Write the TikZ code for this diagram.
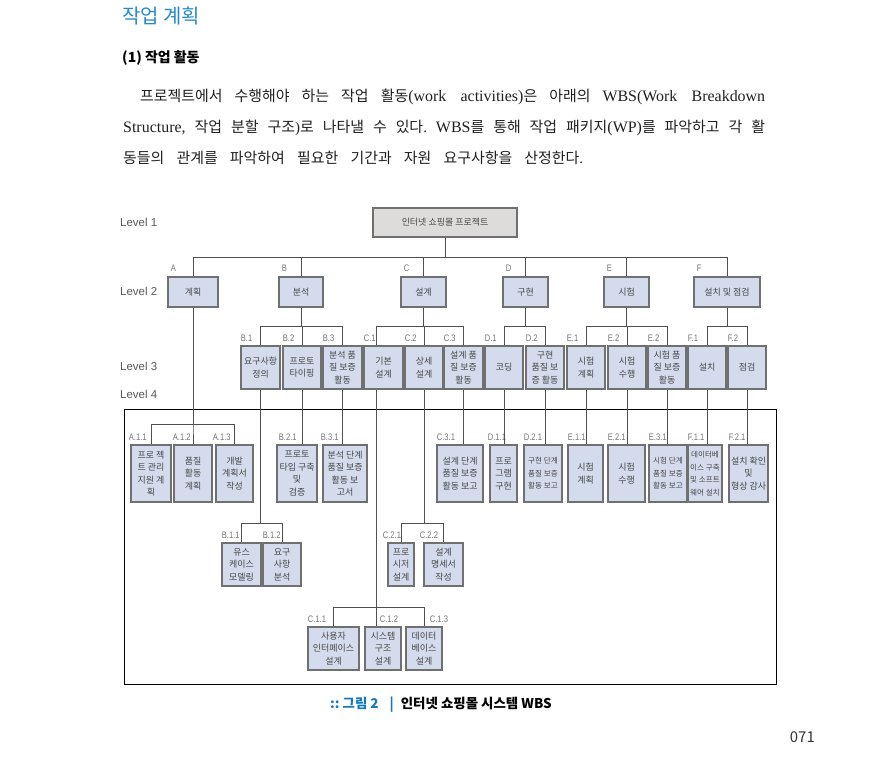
\documentclass[tikz,border=0pt]{standalone}
\usepackage{fontspec}
\setmainfont{Noto Sans CJK KR}
\newfontfamily\latinserif{Liberation Serif}
\newfontfamily\labelfont{Liberation Sans}
\newfontfamily\codefont[FakeStretch=0.8]{Liberation Sans}
\usepackage{tikz}
\usetikzlibrary{calc}
\definecolor{wbsblue}{RGB}{211,219,236}
\definecolor{wbsedge}{RGB}{112,112,112}
\definecolor{wbsroot}{RGB}{221,220,218}
\definecolor{wbsline}{RGB}{80,80,80}
\definecolor{headblue}{RGB}{38,138,200}
\definecolor{capblue}{RGB}{20,120,190}
\frenchspacing

\tikzset{
  wbs/.style={draw=wbsedge, line width=1.6bp, fill=wbsblue, inner sep=0pt,
    align=center, text=black!72, font=\fontsize{9}{12.5}\selectfont},
  lvtwo/.style={wbs, minimum height=30bp},
  lvthree/.style={wbs, minimum height=43bp},
  lvfour/.style={wbs, minimum height=57bp},
  narrow/.style={font=\fontsize{7.6}{12.5}\selectfont},
  code/.style={font=\codefont\fontsize{9.5}{10}\selectfont, text=black!55, inner sep=0pt,
    anchor=south west, xshift=0.5bp, yshift=3.5bp},
  codetwo/.style={code, xshift=3bp, yshift=1bp},
  link/.style={draw=wbsline, line width=0.9bp},
  lvname/.style={font=\labelfont\fontsize{11.5}{12}\selectfont, text=black!65, anchor=west, inner sep=0pt},
  bodyline/.style={anchor=base west, inner sep=0pt, text=black!88, font=\fontsize{15}{16}\selectfont}
}

\begin{document}
\begin{tikzpicture}[x=1bp, y=-1bp]
  \useasboundingbox (0,0) rectangle (885,772);
  % page text
  \node[anchor=west, inner sep=0pt, text=headblue, font=\fontsize{20}{21}\selectfont] (title) at (122,16) {작업 계획};
  \node[anchor=west, inner sep=0pt, font=\fontsize{14}{15}\selectfont\bfseries] (sub) at (122,58) {(1) 작업 활동};
  \node[bodyline] (par1) at (140,101)
    {\makebox[625bp][s]{프로젝트에서 수행해야 하는 작업 활동{\latinserif\fontsize{16}{16}\selectfont(work activities)}은 아래의 {\latinserif\fontsize{16}{16}\selectfont WBS(Work Breakdown}}};
  \node[bodyline] (par2) at (123,132)
    {\makebox[642bp][s]{{\latinserif\fontsize{16}{16}\selectfont Structure,} 작업 분할 구조{\latinserif)}로 나타낼 수 있다{\latinserif.} {\latinserif\fontsize{16}{16}\selectfont WBS}를 통해 작업 패키지{\latinserif\fontsize{16}{16}\selectfont(WP)}를 파악하고 각 활}};
  \node[bodyline] (par3) at (123,163)
    {\makebox[460bp][s]{동들의 관계를 파악하여 필요한 기간과 자원 요구사항을 산정한다{\latinserif.}}};

  % levels
  \node[lvname] (lv1) at (120,222) {Level 1};
  \node[lvname] (lv2) at (120,291) {Level 2};
  \node[lvname] (lv3) at (120,366) {Level 3};
  \node[lvname] (lv4) at (120,394) {Level 4};
  \draw[line width=0.9bp] (124,409) rectangle (776,684);

  % Level 1
  \node[wbs, fill=wbsroot, minimum width=144bp, minimum height=29bp] (root) at (445,222.5) {인터넷 쇼핑몰 프로젝트};

  % Level 2
  \node[lvtwo, minimum width=50bp] (A) at (193,292) {계획};
  \node[lvtwo, minimum width=44bp] (B) at (301,292) {분석};
  \node[lvtwo, minimum width=45bp] (C) at (423.5,292) {설계};
  \node[lvtwo, minimum width=45bp] (D) at (525.5,292) {구현};
  \node[lvtwo, minimum width=45bp] (E) at (626.5,292) {시험};
  \node[lvtwo, minimum width=66bp] (F) at (727,292) {설치 및 점검};
  \node[codetwo] at (A.north west) {A};
  \node[codetwo] at (B.north west) {B};
  \node[codetwo] at (C.north west) {C};
  \node[codetwo] at (D.north west) {D};
  \node[codetwo] at (E.north west) {E};
  \node[codetwo] at (F.north west) {F};

  % Level 3
  \node[lvthree, minimum width=39bp] (B1) at (260.5,367.5) {요구사항\\정의};
  \node[lvthree, minimum width=38bp] (B2) at (302,367.5) {프로토\\타이핑};
  \node[lvthree, minimum width=39bp] (B3) at (342.5,367.5) {분석 품\\질 보증\\활동};
  \node[lvthree, minimum width=39bp] (C1) at (383.5,367.5) {기본\\설계};
  \node[lvthree, minimum width=38bp] (C2) at (424,367.5) {상세\\설계};
  \node[lvthree, minimum width=39bp] (C3) at (463.5,367.5) {설계 품\\질 보증\\활동};
  \node[lvthree, minimum width=38bp] (D1) at (504,367.5) {코딩};
  \node[lvthree, minimum width=38bp] (D2) at (545,367.5) {구현\\품질 보\\증 활동};
  \node[lvthree, minimum width=38bp] (E1) at (586,367.5) {시험\\계획};
  \node[lvthree, minimum width=38bp] (E2) at (627,367.5) {시험\\수행};
  \node[lvthree, minimum width=38bp] (E3) at (667,367.5) {시험 품\\질 보증\\활동};
  \node[lvthree, minimum width=38bp] (F1) at (707,367.5) {설치};
  \node[lvthree, minimum width=38bp] (F2) at (747,367.5) {점검};
  \node[code] at (B1.north west) {B.1};
  \node[code] at (B2.north west) {B.2};
  \node[code] at (B3.north west) {B.3};
  \node[code] at (C1.north west) {C.1};
  \node[code] at (C2.north west) {C.2};
  \node[code] at (C3.north west) {C.3};
  \node[code] at (D1.north west) {D.1};
  \node[code] at (D2.north west) {D.2};
  \node[code] at (E1.north west) {E.1};
  \node[code] at (E2.north west) {E.2};
  \node[code] at (E3.north west) {E.2};
  \node[code] at (F1.north west) {F.1};
  \node[code] at (F2.north west) {F.2};

  % Level 4
  \node[lvfour, minimum width=40bp] (A11) at (151,473.5) {프로 젝\\트 관리\\지원 계\\획};
  \node[lvfour, minimum width=38bp] (A12) at (193,473.5) {품질\\활동\\계획};
  \node[lvfour, minimum width=37bp] (A13) at (234.5,473.5) {개발\\계획서\\작성};
  \node[lvfour, minimum width=40bp] (B21) at (297,473.5) {프로토\\타입 구축\\및\\검증};
  \node[lvfour, minimum width=44bp] (B31) at (345,473.5) {분석 단계\\품질 보증\\활동 보\\고서};
  \node[lvfour, minimum width=46bp] (C31) at (460,473.5) {설계 단계\\품질 보증\\활동 보고};
  \node[lvfour, minimum width=27bp] (D11) at (503.5,473.5) {프로\\그램\\구현};
  \node[lvfour, narrow, minimum width=38bp] (D21) at (543,473.5) {구현 단계\\품질 보증\\활동 보고};
  \node[lvfour, minimum width=35bp] (E11) at (585.5,473.5) {시험\\계획};
  \node[lvfour, minimum width=37bp] (E21) at (626.5,473.5) {시험\\수행};
  \node[lvfour, narrow, minimum width=38bp] (E31) at (668,473.5) {시험 단계\\품질 보증\\활동 보고};
  \node[lvfour, narrow, minimum width=34bp] (F11) at (705,473.5) {데이터베\\이스 구축\\및 소프트\\웨어 설치};
  \node[lvfour, minimum width=39bp] (F21) at (748.5,473.5) {설치 확인\\및\\형상 감사};
  \node[lvthree, minimum width=39bp] (B11) at (241.5,564.5) {유스\\케이스\\모델링};
  \node[lvthree, minimum width=38bp] (B12) at (282,564.5) {요구\\사항\\분석};
  \node[lvthree, minimum width=26bp] (C21) at (401,564.5) {프로\\시저\\설계};
  \node[lvthree, minimum width=39bp] (C22) at (443.5,564.5) {설계\\명세서\\작성};
  \node[lvthree, minimum width=51bp] (C11) at (333.5,648.5) {사용자\\인터페이스\\설계};
  \node[lvthree, minimum width=36bp] (C12) at (383,648.5) {시스템\\구조\\설계};
  \node[lvthree, minimum width=36bp] (C13) at (424,648.5) {데이터\\베이스\\설계};
  \node[code, xshift=-2bp] at (A11.north west) {A.1.1};
  \node[code, xshift=-1bp] at (A12.north west) {A.1.2};
  \node[code, xshift=-3bp] at (A13.north west) {A.1.3};
  \node[code, xshift=2bp] at (B21.north west) {B.2.1};
  \node[code, xshift=-2bp] at (B31.north west) {B.3.1};
  \node[code] at (C31.north west) {C.3.1};
  \node[code, xshift=-2bp] at (D11.north west) {D.1.1};
  \node[code] at (D21.north west) {D.2.1};
  \node[code] at (E11.north west) {E.1.1};
  \node[code] at (E21.north west) {E.2.1};
  \node[code] at (E31.north west) {E.3.1};
  \node[code] at (F11.north west) {F.1.1};
  \node[code] at (F21.north west) {F.2.1};
  \node[code] at (B11.north west) {B.1.1};
  \node[code] at (B12.north west) {B.1.2};
  \node[code, xshift=-5bp] at (C21.north west) {C.2.1};
  \node[code, xshift=-4bp] at (C22.north west) {C.2.2};
  \node[code] at (C11.north west) {C.1.1};
  \node[code, xshift=15bp] at (C12.north west) {C.1.2};
  \node[code, xshift=24bp] at (C13.north west) {C.1.3};

  % connectors
  \foreach \c in {A,B,C,D,E,F}
    \draw[link] (root.south) -- ++(0,20) -| (\c.north);
  \foreach \c in {B1,B2,B3}
    \draw[link] (B.south) -- ++(0,19) -| (\c.north);
  \foreach \c in {C2,C3}
    \draw[link] (C.south) -- ++(0,19) -| (\c.north);
  \draw[link] (C.south) -- ++(0,19) -| ([xshift=-7.5bp]C1.north);
  \foreach \c in {D1,D2}
    \draw[link] (D.south) -- ++(0,19) -| (\c.north);
  \foreach \c in {E1,E2,E3}
    \draw[link] (E.south) -- ++(0,19) -| (\c.north);
  \foreach \c in {F1,F2}
    \draw[link] (F.south) -- ++(0,19) -| (\c.north);
  \foreach \p/\c in {B2/B21, B3/B31, C3/C31, D1/D11, D2/D21, E1/E11, E2/E21, E3/E31, F1/F11, F2/F21}
    \draw[link] (\p.south) -- (\p.south |- \c.north);
  \foreach \c in {A11,A12,A13}
    \draw[link] (A.south) -- ++(0,117) -| (\c.north);
  \foreach \c in {B11,B12}
    \draw[link] (B1.south) -- ++(0,134) -| (\c.north);
  \foreach \c in {C21,C22}
    \draw[link] (C2.south) -- ++(0,134) -| (\c.north);
  \foreach \c in {C11,C13}
    \draw[link] ([xshift=-7.5bp]C1.south) -- ++(0,218) -| (\c.north);
  \draw[link] ([xshift=-7.5bp]C1.south) -- ([xshift=-7.5bp]C1.south |- C12.north);

  % caption
  \node[anchor=west, inner sep=0pt, font=\fontsize{13.5}{15}\selectfont\bfseries] (cap) at (330,705)
    {\textcolor{capblue}{::\hspace{3bp}그림 2\hspace{11bp}|\hspace{7bp}}인터넷 쇼핑몰 시스템 WBS};
  \node[anchor=east, inner sep=0pt, text=black!80, font=\fontsize{15}{16}\selectfont] (page) at (815,737) {071};
\end{tikzpicture}
\end{document}
